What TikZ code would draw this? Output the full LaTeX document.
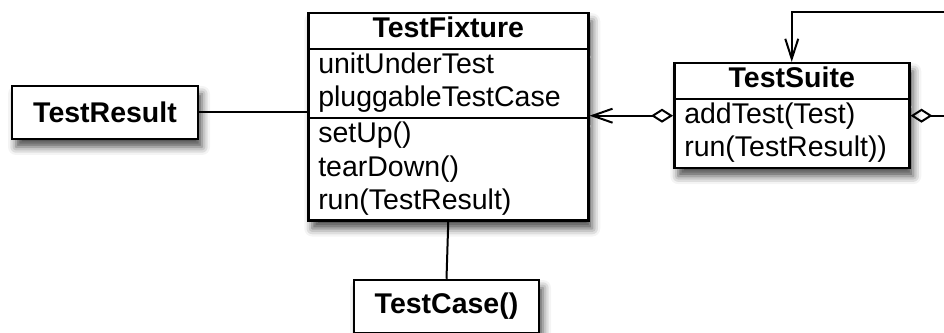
\documentclass[tikz,border=0pt]{standalone}
\usepackage{fontspec}
\setmainfont{Liberation Sans}
\usetikzlibrary{arrows.meta,shapes.multipart,shadows.blur}
\newcommand{\classname}[1]{\hfill\textbf{#1}\strut\hfill\null}

\begin{document}
\begin{tikzpicture}[
    x=1pt,y=1pt,
    every node/.style={font=\fontsize{28.5}{33.3}\selectfont},
    umlshadow/.style={blur shadow={shadow xshift=4pt,shadow yshift=-8pt,
                      shadow blur radius=8pt,shadow opacity=70}},
    classbox/.style={rectangle split,rectangle split parts=#1,draw,line width=2.5pt,
                     fill=white,inner xsep=10pt,inner ysep=0pt,align=left,umlshadow},
    plainbox/.style={draw,line width=2.5pt,fill=white,minimum width=186pt,minimum height=53pt,
                     font=\fontsize{28.5}{33.3}\selectfont\bfseries,umlshadow},
    link/.style={line width=2pt},
    agg/.style={link,{Straight Barb[length=20pt,width=14pt]}-{Diamond[open,length=22pt,width=14pt]}}
  ]
  \useasboundingbox (0,0) rectangle (944,332);
  %% Classes
  \node[classbox=3,text width=260pt,anchor=north west] (fixture) at (307,320)
        {\classname{TestFixture}
         \nodepart{two} unitUnderTest\strut\\ pluggableTestCase\strut
         \nodepart{three} setUp()\strut\\ tearDown()\strut\\ run(TestResult)\strut};
  \node[classbox=2,text width=215pt,anchor=north west] (suite) at (673,270)
        {\classname{TestSuite}
         \nodepart{two} addTest(Test)\strut\\ run(TestResult))\strut};
  \node[plainbox] (result) at (105,219.5) {TestResult};
  \node[plainbox,minimum width=185pt] (case) at (446.5,25.5) {TestCase()};
  %% Loose ends at the right border
  \coordinate (outlow)  at (944,0);
  \coordinate (outhigh) at (944,320);
  %% Connectors
  \draw[link] (result.east) -- (result.east -| fixture.west);
  \draw[link] (fixture.south) -- (case.north);
  \draw[agg] (fixture.east |- suite.west) -- (suite.west);
  \draw[link,{Diamond[open,length=22pt,width=14pt]}-] (suite.east) -- (suite.east -| outlow);
  \draw[link,-{Straight Barb[length=20pt,width=13pt]}] (outhigh) -| (suite.north);
\end{tikzpicture}
\end{document}
